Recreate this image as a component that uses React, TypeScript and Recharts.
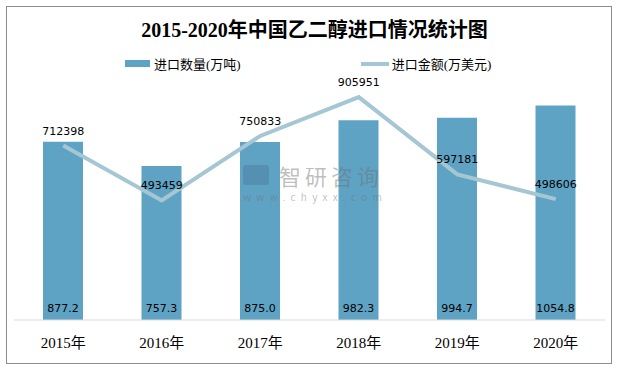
import { ComposedChart, Bar, Line, XAxis, YAxis, LabelList } from 'recharts';

const years = ['2015年', '2016年', '2017年', '2018年', '2019年', '2020年'];
const volume = [877.2, 757.3, 875.0, 982.3, 994.7, 1054.8];
const amount = [712398, 493459, 750833, 905951, 597181, 498606];

const data = years.map((year, i) => ({ year, volume: volume[i], amount: amount[i] }));

const BAR = '#5fa3c4';
const LINE = '#a5c6d3';
const NUM_FONT = '"DejaVu Sans", sans-serif';
const CN_SERIF = '"Liberation Serif", "Noto Sans CJK SC", serif';

const Legend2 = () => (
  <div style={{ position: 'absolute', top: 54, left: 125, display: 'flex', alignItems: 'center',
    fontFamily: CN_SERIF, fontSize: 13, color: '#000' }}>
    <span style={{ display: 'inline-block', width: 25, height: 7, background: BAR, marginRight: 4 }} />
    <span>进口数量(万吨)</span>
    <span style={{ display: 'inline-block', width: 28, height: 4, background: LINE, marginLeft: 120, marginRight: 3 }} />
    <span>进口金额(万美元)</span>
  </div>
);

// faint site watermark sitting over the plot
const Watermark = () => (
  <div style={{ position: 'absolute', left: 243, top: 163, color: 'rgba(110,110,110,0.45)',
    fontFamily: '"Noto Sans CJK SC", sans-serif', pointerEvents: 'none' }}>
    <div style={{ display: 'flex', alignItems: 'center', height: 24 }}>
      <span style={{ display: 'inline-block', width: 26, height: 20, marginRight: 10,
        background: 'rgba(70,110,150,0.35)', borderRadius: 3 }} />
      <span style={{ fontSize: 22, lineHeight: '24px', letterSpacing: 4 }}>智研咨询</span>
    </div>
    <div style={{ fontSize: 10, lineHeight: '12px', marginTop: 4, letterSpacing: 5.3 }}>www.chyxx.com</div>
  </div>
);

export default function App() {
  return (
    <div style={{ position: 'absolute', left: 0, top: 0, width: 629, height: 370, background: '#fff' }}>
      <div style={{ position: 'absolute', left: 6, top: 6, width: 604, height: 356, border: '1px solid #8c8c8c' }} />
      <div style={{ position: 'absolute', top: 14, left: 0, width: 629, textAlign: 'center',
        fontFamily: CN_SERIF, fontWeight: 'bold', fontSize: 20, color: '#000' }}>
        2015-2020年中国乙二醇进口情况统计图
      </div>
      <Legend2 />
      <ComposedChart
        width={629}
        height={370}
        data={data}
        margin={{ top: 76, right: 24, bottom: 20, left: 14 }}
        style={{ position: 'absolute', left: 0, top: 0 }}
      >
        <XAxis
          dataKey="year"
          axisLine={{ stroke: '#d9d9d9' }}
          tickLine={false}
          height={30}
          tickMargin={11}
          tick={{ fontSize: 15, fill: '#000', fontFamily: CN_SERIF }}
        />
        <YAxis yAxisId="left" hide domain={[0, 1200]} />
        <YAxis yAxisId="right" orientation="right" hide domain={[16000, 990000]} />
        <Bar yAxisId="left" dataKey="volume" fill={BAR} barSize={40} isAnimationActive={false}>
          <LabelList
            dataKey="volume"
            position="insideBottom"
            offset={8}
            formatter={(v: number) => v.toFixed(1)}
            style={{ fontSize: 11, fill: '#000', fontFamily: NUM_FONT }}
          />
        </Bar>
        <Line
          yAxisId="right"
          dataKey="amount"
          type="linear"
          stroke={LINE}
          strokeWidth={4}
          dot={false}
          activeDot={false}
          isAnimationActive={false}
        >
          <LabelList
            dataKey="amount"
            position="top"
            offset={11}
            style={{ fontSize: 11, fill: '#000', fontFamily: NUM_FONT }}
          />
        </Line>
      </ComposedChart>
      <Watermark />
    </div>
  );
}
